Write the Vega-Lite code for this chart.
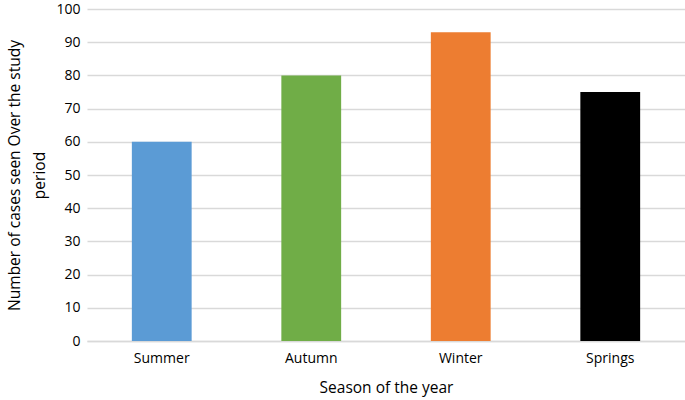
{
  "$schema": "https://vega.github.io/schema/vega-lite/v6.json",
  "autosize": "none",
  "width": 598,
  "height": 332,
  "padding": {"left": 87, "top": 9, "right": 0, "bottom": 59},
  "background": "white",
  "config": {
    "view": {"stroke": null},
    "font": "Open Sans",
    "axis": {"labelFont": "Open Sans", "titleFont": "Open Sans", "labelColor": "#000", "titleColor": "#000", "titleFontWeight": "normal"}
  },
  "data": {
    "values": [
      {"season": "Summer", "cases": 60, "color": "#5B9BD5"},
      {"season": "Autumn", "cases": 80, "color": "#70AD47"},
      {"season": "Winter", "cases": 93, "color": "#ED7D31"},
      {"season": "Springs", "cases": 75, "color": "#000000"}
    ]
  },
  "mark": {"type": "bar"},
  "encoding": {
    "x": {
      "field": "season", "type": "nominal", "sort": null,
      "scale": {"paddingInner": 0.6, "paddingOuter": 0.3},
      "axis": {"title": "Season of the year", "labelAngle": 0, "labelFontSize": 14, "titleFontSize": 15.5, "ticks": false, "domainColor": "#d9d9d9", "domainWidth": 1.5, "labelPadding": 10, "titlePadding": 15}
    },
    "y": {
      "field": "cases", "type": "quantitative",
      "scale": {"domain": [0, 100], "nice": false},
      "axis": {"title": ["Number of cases seen Over the study", "period"], "values": [0,10,20,30,40,50,60,70,80,90,100], "labelFontSize": 14, "titleFontSize": 15.5, "titleLineHeight": 25, "ticks": false, "domain": false, "gridColor": "#d9d9d9", "gridWidth": 1.5, "labelPadding": 7, "titlePadding": 8}
    },
    "color": {"field": "color", "type": "nominal", "scale": null, "legend": null}
  }
}
